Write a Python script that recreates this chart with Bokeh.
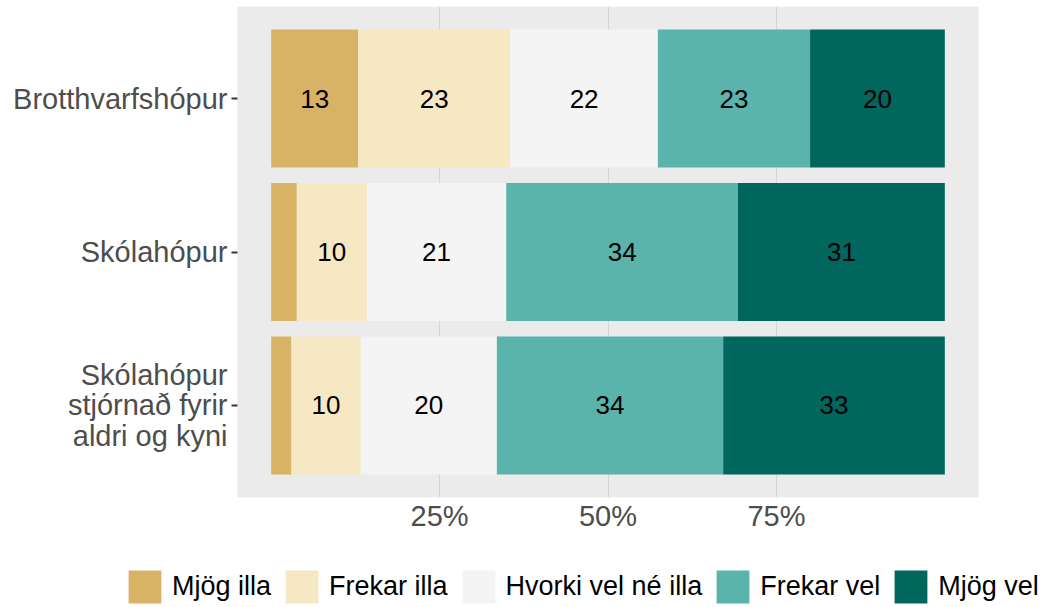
import numpy as np
from bokeh.plotting import figure
from bokeh.models import (ColumnDataSource, Range1d, FixedTicker, PrintfTickFormatter,
                          Legend, LegendItem, LinearAxis, Grid)
from bokeh.core.properties import value
from bokeh.embed import file_html
from bokeh.resources import INLINE

# ---- data ----
categories = ["Brotthvarfshópur", "Skólahópur", "Skólahópur\nstjórnað fyrir\naldri og kyni"]
levels = ["Mjög illa", "Frekar illa", "Hvorki vel né illa", "Frekar vel", "Mjög vel"]
mjog_illa = [12.9, 3.8, 3.0]
frekar_illa = [22.6, 10.4, 10.3]
hvorki = [21.9, 20.7, 20.2]
frekar_vel = [22.6, 34.4, 33.6]
mjog_vel = [20.0, 30.7, 32.9]
colors = ["#D8B365", "#F6E8C3", "#F4F4F4", "#5AB4AC", "#01665E"]
x_ticks = [25, 50, 75]

FONT = "Liberation Sans"
series = [mjog_illa, frekar_illa, hvorki, frekar_vel, mjog_vel]
n = len(categories)
ypos = [n - i for i in range(n)]  # first category on top

data = {"y": ypos}
for lev, vals in zip(levels, series):
    data[lev] = vals
source = ColumnDataSource(data)

p = figure(frame_width=741, frame_height=491, output_backend="svg", toolbar_location=None,
           x_range=Range1d(-5, 105), y_range=Range1d(0.4, n + 0.6),
           min_border_left=237, min_border_right=70, min_border_top=6,
           min_border_bottom=64, x_axis_location=None, y_axis_location=None)
p.outline_line_color = None
p.background_fill_color = "#EBEBEB"
p.border_fill_color = "white"

renderers = p.hbar_stack(levels, y="y", height=0.9, color=colors, source=source,
                         line_color=None)

# value labels
arr = np.array(series)
cum = np.cumsum(arr, axis=0)
mids = cum - arr / 2
lx, ly, lt = [], [], []
for i in range(len(levels)):
    for j in range(n):
        if arr[i, j] >= 5:
            lx.append(mids[i, j]); ly.append(ypos[j]); lt.append(f"{round(arr[i, j])}")
p.text(x=lx, y=ly, text=lt, text_align="center", text_baseline="middle",
       text_font=value(FONT), text_font_size="26px", text_color="black")

# axes
xaxis = LinearAxis(ticker=FixedTicker(ticks=x_ticks), formatter=PrintfTickFormatter(format="%d%%"))
xaxis.axis_line_color = None
xaxis.major_tick_line_color = None
xaxis.major_tick_out = 0
xaxis.major_tick_in = 0
xaxis.minor_tick_out = 0
xaxis.minor_tick_in = 0
xaxis.minor_tick_line_color = None
xaxis.major_label_text_font = FONT
xaxis.major_label_text_font_size = "29px"
xaxis.major_label_text_color = "#4D4D4D"
xaxis.major_label_standoff = 2
p.add_layout(xaxis, "below")

yaxis = LinearAxis(ticker=FixedTicker(ticks=ypos),
                   major_label_overrides={y: c for y, c in zip(ypos, categories)})
yaxis.axis_line_color = None
yaxis.major_tick_out = 6
yaxis.major_tick_in = 0
yaxis.major_tick_line_color = "#333333"
yaxis.major_tick_line_width = 2
yaxis.minor_tick_line_color = None
yaxis.major_label_text_font = FONT
yaxis.major_label_text_font_size = "29px"
yaxis.major_label_text_color = "#4D4D4D"
yaxis.major_label_text_line_height = 0.95
yaxis.major_label_standoff = 4
p.add_layout(yaxis, "left")

p.xgrid.visible = False
p.ygrid.visible = False
p.add_layout(Grid(dimension=0, ticker=FixedTicker(ticks=x_ticks), grid_line_color="#D4D4D4",
                  grid_line_width=1))

# ---- legend strip (separate root below the chart) ----
p2 = figure(width=1048, height=46, output_backend="svg", toolbar_location=None,
            x_range=Range1d(-5, 105), y_range=Range1d(n + 5, n + 6),
            min_border_left=0, min_border_right=0, min_border_top=0, min_border_bottom=0,
            x_axis_location=None, y_axis_location=None)
p2.outline_line_color = None
p2.xgrid.visible = False
p2.ygrid.visible = False
p2.background_fill_color = "white"
p2.border_fill_color = "white"

# same stacked data, outside this strip's visible range: used only for legend keys
key_renderers = p2.hbar_stack(levels, y="y", height=0.9, color=colors, source=source,
                              line_color=None)

legend = Legend(items=[LegendItem(label=lev, renderers=[r]) for lev, r in zip(levels, key_renderers)],
                orientation="horizontal", location=(124, 0))
legend.glyph_width = 41
legend.glyph_height = 41
legend.label_standoff = 7
legend.spacing = 10
legend.padding = 0
legend.margin = 0
legend.border_line_color = None
legend.background_fill_alpha = 0
legend.label_text_font = FONT
legend.label_text_font_size = "27px"
legend.label_text_color = "black"
legend.label_height = 41
p2.add_layout(legend, "center")

open("out.html", "w").write(file_html([p, p2], INLINE))
